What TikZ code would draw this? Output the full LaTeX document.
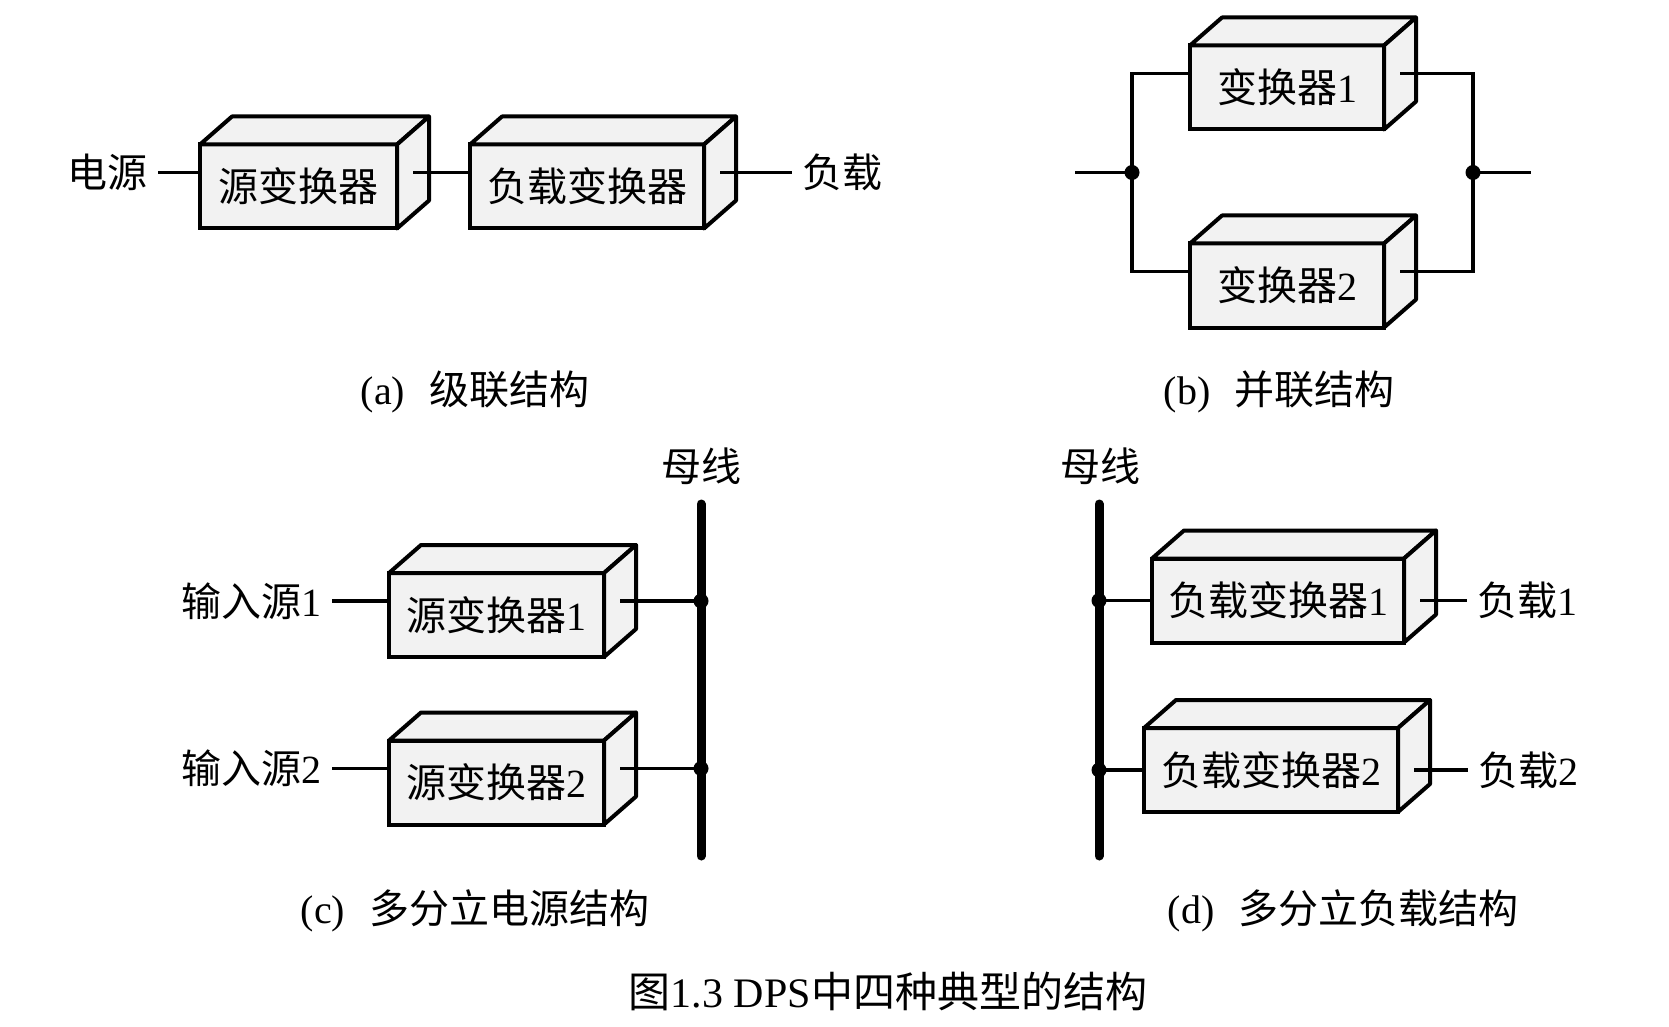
\documentclass[tikz,border=0pt]{standalone}
\usepackage{fontspec}
\setmainfont{Liberation Serif}
\newfontfamily\cjk{Noto Sans CJK SC}
\definecolor{boxgray}{RGB}{242,242,242}
\tikzset{
  conv/.style={draw, line width=2pt, fill=boxgray, rectangle, minimum height=42pt,
    inner sep=0pt, outer sep=0pt, font=\fontsize{20pt}{24pt}\selectfont},
  cubeface/.style={draw, line width=2pt, line join=round, fill=boxgray},
  wire/.style={line width=1.7pt},
  bus/.style={line width=4.5pt, line cap=round},
  dot/.style={circle, fill, inner sep=0pt, minimum size=7.5pt},
  lbl/.style={inner sep=5pt, font=\fontsize{20pt}{24pt}\selectfont},
  captext/.style={font=\fontsize{20pt}{24pt}\selectfont}
}

\begin{document}
\begin{tikzpicture}[x=0.5pt, y=-0.5pt]
	\useasboundingbox (0,0) rectangle (1669,1027);

	% (a) 级联结构
	\node[conv, minimum width=98.5pt] (A1) at (298.5,186.5) {{\cjk 源变换器}};
	\node[conv, minimum width=117pt] (A2) at (587,186.5) {{\cjk 负载变换器}};
	\node[lbl, anchor=east] (src) at (158,172.5) {\cjk 电源};
	\node[lbl, anchor=west] (load) at (792,172.5) {\cjk 负载};

	% (b) 并联结构
	\node[conv, minimum width=97pt] (B1) at (1287,87.5) {{\cjk 变换器}1};
	\node[conv, minimum width=97pt] (B2) at (1287,285.5) {{\cjk 变换器}2};
	\node[dot] (jL) at (1132,172.5) {};
	\node[dot] (jR) at (1473,172.5) {};
	\coordinate (bin) at (1075,172.5);
	\coordinate (bout) at (1531,172.5);

	% (c) 多分立电源结构
	\node[conv, minimum width=107.5pt] (C1) at (496.5,615) {{\cjk 源变换器}1};
	\node[conv, minimum width=107.5pt] (C2) at (496.5,782.5) {{\cjk 源变换器}2};
	\node[captext] (busC) at (701,466) {\cjk 母线};
	\coordinate (cTop) at (701,504);
	\coordinate (cBot) at (701,856);
	\node[dot] (cj1) at (701,601) {};
	\node[dot] (cj2) at (701,768.5) {};
	\node[lbl, anchor=east] (in1) at (332,601) {{\cjk 输入源}1};
	\node[lbl, anchor=east] (in2) at (332,768.5) {{\cjk 输入源}2};

	% (d) 多分立负载结构
	\node[conv, minimum width=126pt] (D1) at (1278,600.5) {{\cjk 负载变换器}1};
	\node[conv, minimum width=127pt] (D2) at (1271,770) {{\cjk 负载变换器}2};
	\node[captext] (busD) at (1100,466) {\cjk 母线};
	\coordinate (dTop) at (1099,504);
	\coordinate (dBot) at (1099,856);
	\node[dot] (dj1) at (1099,600.5) {};
	\node[dot] (dj2) at (1099,770) {};
	\node[lbl, anchor=west] (ld1) at (1467,600.5) {{\cjk 负载}1};
	\node[lbl, anchor=west] (ld2) at (1468,770) {{\cjk 负载}2};

	% 立方体的顶面和侧面
	\foreach \n in {A1,A2,B1,B2,C1,C2,D1,D2} {
		\filldraw[cubeface] (\n.north west) -- ++(16pt,14pt) -- ([shift={(16pt,14pt)}]\n.north east) -- (\n.north east) -- cycle;
		\filldraw[cubeface] (\n.north east) -- ++(16pt,14pt) -- ([shift={(16pt,14pt)}]\n.south east) -- (\n.south east) -- cycle;
	}

	% 连线
	\draw[wire] (src.east) -- ([yshift=7pt]A1.west);
	\draw[wire] ([shift={(8pt,7pt)}]A1.east) -- ([yshift=7pt]A2.west);
	\draw[wire] ([shift={(8pt,7pt)}]A2.east) -- (load.west);

	\draw[wire] (bin) -- (jL.center);
	\draw[wire] ([yshift=7pt]B1.west) -| (jL.center) |- ([yshift=7pt]B2.west);
	\draw[wire] ([shift={(8pt,7pt)}]B1.east) -| (jR.center) |- ([shift={(8pt,7pt)}]B2.east);
	\draw[wire] (jR.center) -- (bout);

	\draw[bus] (cTop) -- (cBot);
	\draw[wire] (in1.east) -- ([yshift=7pt]C1.west);
	\draw[wire] (in2.east) -- ([yshift=7pt]C2.west);
	\draw[wire] ([shift={(8pt,7pt)}]C1.east) -- (cj1.center);
	\draw[wire] ([shift={(8pt,7pt)}]C2.east) -- (cj2.center);

	\draw[bus] (dTop) -- (dBot);
	\draw[wire] (dj1.center) -- (D1.west);
	\draw[wire] (dj2.center) -- (D2.west);
	\draw[wire] ([xshift=8pt]D1.east) -- (ld1.west);
	\draw[wire] ([xshift=8pt]D2.east) -- (ld2.west);

	% 标题
	\node[captext] (capA) at (475,392) {(a)\hspace{0.6em}{\cjk 级联结构}};
	\node[captext] (capB) at (1279,392) {(b)\hspace{0.6em}{\cjk 并联结构}};
	\node[captext] (capC) at (475,911) {(c)\hspace{0.6em}{\cjk 多分立电源结构}};
	\node[captext] (capD) at (1343,911) {(d)\hspace{0.6em}{\cjk 多分立负载结构}};
	\node[captext, font=\fontsize{21pt}{25pt}\selectfont] (title) at (888,991) {{\cjk 图}1.3 DPS{\cjk 中四种典型的结构}};
\end{tikzpicture}
\end{document}
